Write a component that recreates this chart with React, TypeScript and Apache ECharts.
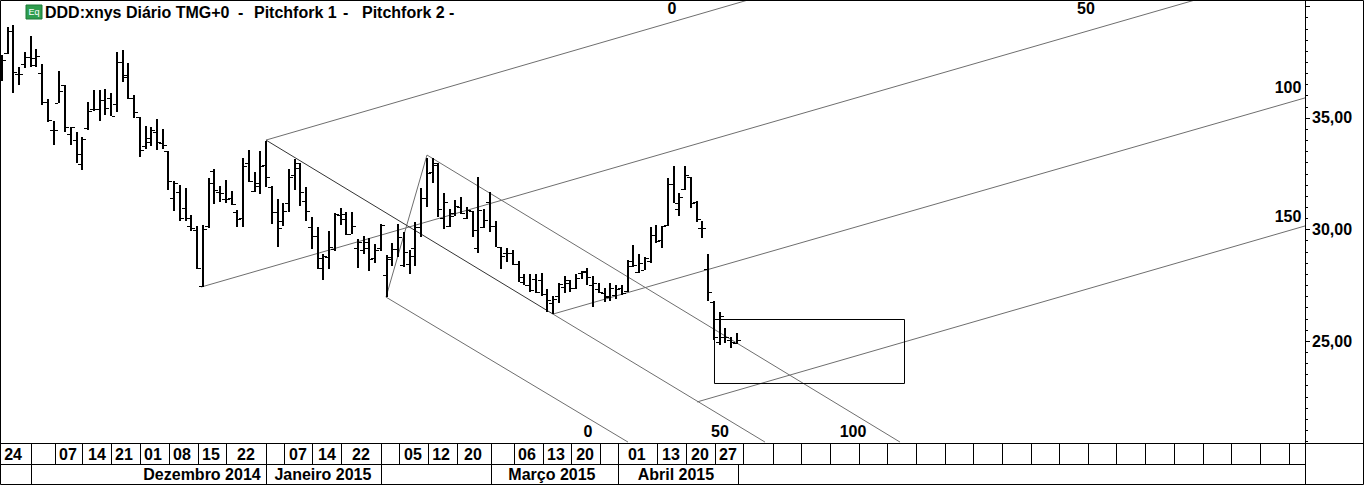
import React, { useEffect, useRef } from "react";
import * as echarts from "echarts";

const opens = [37.60,37.91,38.90,36.97,37.42,37.73,37.38,37.02,35.72,34.46,35.67,36.48,34.28,34.01,32.94,34.55,35.40,35.40,35.81,35.90,35.63,37.51,36.93,35.90,35.04,33.74,33.92,34.37,33.88,33.52,31.41,31.68,30.96,30.16,29.98,27.47,30.16,32.62,31.68,31.37,31.41,30.78,30.51,32.98,31.73,31.95,32.89,31.91,30.78,30.38,31.19,32.44,32.98,31.28,30.11,29.71,28.72,28.77,29.12,30.65,30.47,29.80,29.17,29.08,29.17,28.72,29.17,27.96,28.77,29.12,28.41,28.45,29.17,30.11,31.41,32.58,32.98,30.51,30.16,30.74,31.01,30.51,30.83,29.17,30.11,31.23,30.16,29.21,28.95,28.95,28.45,27.64,27.51,27.78,27.73,27.11,26.70,27.02,27.42,27.60,27.38,28.05,28.14,27.51,27.33,27.15,27.02,27.06,27.38,27.24,28.36,28.09,28.18,28.59,29.75,29.53,30.20,32.04,30.92,31.82,32.35,31.23,30.07,28.23,26.75,24.96,25.18,25.05,24.91];
const highs = [37.82,39.08,39.17,37.29,37.96,38.68,38.09,37.42,35.85,34.86,37.11,36.48,34.60,34.37,34.15,35.72,36.25,36.25,36.30,36.12,37.96,38.05,37.47,36.03,35.04,34.64,34.60,34.95,34.51,33.52,32.17,32.00,31.86,30.65,30.16,30.20,32.31,32.71,31.95,32.22,31.73,30.87,33.21,33.56,32.58,33.52,33.97,31.95,31.37,31.19,32.71,33.16,32.98,31.91,30.56,30.11,28.90,29.93,30.74,30.96,30.78,30.78,29.57,29.71,29.62,29.35,30.25,28.86,29.39,30.25,29.89,29.08,30.34,31.86,33.21,33.21,32.98,31.64,30.92,31.32,31.46,31.01,30.83,32.35,30.92,31.68,30.38,29.21,29.17,29.08,28.59,28.00,28.00,28.00,28.05,27.33,27.02,27.60,27.91,27.73,28.00,28.14,28.27,27.91,27.60,27.38,27.60,27.51,27.51,28.63,29.30,28.90,28.77,30.11,30.20,30.16,32.31,32.85,31.64,32.85,32.35,31.28,30.38,28.90,26.79,26.30,25.59,25.18,25.36];
const lows = [36.66,37.87,36.12,36.48,37.24,37.29,37.29,35.58,34.82,33.79,35.67,34.37,33.79,32.98,32.67,34.46,35.31,34.86,35.13,35.09,35.27,36.61,35.85,35.00,33.25,33.61,33.74,33.56,33.61,31.77,30.83,30.38,30.38,29.93,28.23,27.42,30.07,31.14,31.23,31.19,31.10,30.11,30.11,32.13,31.68,31.59,31.91,30.25,29.21,30.16,30.78,31.77,31.05,30.38,29.12,28.23,27.73,28.23,29.03,30.20,29.75,29.80,28.27,28.90,28.14,28.50,29.03,26.97,28.36,28.77,28.32,28.00,28.36,29.66,31.01,32.08,30.56,30.02,30.11,30.60,30.69,30.47,29.66,28.95,30.07,29.89,29.21,28.23,28.54,28.41,27.64,27.51,27.20,27.15,27.02,26.30,26.21,26.70,27.15,27.20,27.33,27.78,27.51,26.52,27.15,26.75,26.79,26.88,27.06,27.20,28.32,28.05,28.18,28.50,29.39,29.17,30.16,31.19,30.60,31.77,30.96,30.34,29.62,26.79,25.05,24.82,24.91,24.69,24.87];
const closes = [37.60,38.90,37.06,36.97,37.73,37.69,37.78,35.72,34.91,34.46,36.21,34.60,34.60,33.38,34.06,35.31,35.40,35.81,35.45,35.09,37.51,36.84,35.90,35.27,33.56,34.10,34.46,33.92,33.79,32.17,32.08,30.51,30.51,30.07,28.27,30.02,32.08,31.77,31.64,31.37,31.14,30.47,32.85,32.17,32.08,32.85,32.35,30.78,30.07,30.83,32.35,32.76,31.68,30.83,29.71,28.27,28.81,29.21,30.69,30.69,29.80,30.16,29.44,29.44,28.68,29.08,30.20,28.68,29.12,29.66,28.99,28.81,30.11,31.41,32.53,32.89,30.92,31.23,30.60,31.05,30.74,30.87,29.98,30.87,30.42,30.16,29.21,28.81,28.95,28.45,27.87,27.51,27.29,27.20,27.11,26.84,26.88,27.56,27.73,27.38,27.82,28.09,27.87,27.60,27.20,26.97,27.38,27.33,27.15,28.59,28.41,28.50,28.72,29.75,29.48,30.16,32.04,31.19,31.46,32.44,31.19,30.47,30.07,27.20,25.18,26.12,25.18,24.96,25.05];

const priceLabels = [25, 30, 35, 40];
const priceTicks = [20.5,21,21.5,22,22.5,23,23.5,24,24.5,25.5,26,26.5,27,27.5,28,28.5,29,29.5,30.5,31,31.5,32,32.5,33,33.5,34,34.5,35.5,36,36.5,37,37.5,38,38.5,39,39.5];

const dayLabels = ["24","07","14","21","01","08","15","22","07","14","22","05","12","20","06","13","20","01","13","20","27"];
const dayBars = [1.92,11.5,16.55,21.25,26.3,31.36,36.4,42.5,51.57,56.62,62.54,71.6,76.5,82.05,91.46,96.5,101.57,110.6,116.55,121.6,126.48];
const daySeparators = [5.05,9.23,13.94,19,24.04,29.09,34.15,39.02,45.99,49.13,54,59.06,66.03,69.16,74.2,79.27,85.19,89.2,94.25,99.13,104.18,107.3,114.1,119.16,124.2,129.1,134.3,139.2,144.25,149.3,154.2,159.2,164.3,169.2,174.2,179.3,184.15,189.2,194.1,199.1,204.2,209.2,214.1,219.2,224.2];
const monthLabels = ["Dezembro 2014","Janeiro 2015","Março 2015","Abril 2015"];
const monthBars = [34.84,55.9,95.8,117.4];
const monthSeparators = [5.05,45.99,66.03,85.19,107.3,128.2];

// Pitchfork lines: [bar, price] end points
const forkLines: number[][][] = [
  [[45.99,34.01],[129.97,40.29]],
  [[34.67,27.42],[207.84,40.29]],
  [[95.99,26.21],[227,35.90]],
  [[121.08,22.27],[227,30.16]],
  [[95.99,26.21],[132.93,20.47]],
  [[66.9,26.97],[109.06,20.47]],
  [[74.04,33.34],[156.45,20.47]],
  [[66.9,26.97],[74.04,33.34]],
];
const forkMedian: number[][] = [[45.99,34.01],[95.99,26.21]];
const targetBox: number[][] = [[124.126,25.966],[157.23,25.966],[157.23,23.098],[124.126,23.098],[124.126,25.966]];

const forkLabels = [
  { text: "0", x: 672, y: 8 }, { text: "50", x: 1086, y: 8 },
  { text: "100", x: 1288, y: 87 }, { text: "150", x: 1288, y: 216 },
  { text: "0", x: 588, y: 431 }, { text: "50", x: 720, y: 431 }, { text: "100", x: 853, y: 431 },
];
const headerItems = [
  { text: "DDD:xnys Diário TMG+0", x: 45 }, { text: "-", x: 238 },
  { text: "Pitchfork 1", x: 254 }, { text: "-", x: 343 },
  { text: "Pitchfork 2", x: 362 }, { text: "-", x: 449 },
];

const FONT = '"Liberation Sans", Arial, sans-serif';
const xMin = -0.348, xMax = 227.0, yMin = 20.43, yMax = 40.245;

export default function App() {
  const ref = useRef<HTMLDivElement>(null);
  useEffect(() => {
    document.body.style.margin = "0";
    const chart = echarts.init(ref.current!, null, { renderer: "svg" });
    const ohlc = opens.map((o, i) => [i, o, highs[i], lows[i], closes[i]]);
    const textStyle = { color: "#000", fontFamily: FONT, fontWeight: "bold" as const, fontSize: 16 };
    const lineSeries = (data: number[][], color: string) => ({
      type: "line", data, symbol: "none", silent: true, animation: false, z: 2,
      lineStyle: { color, width: 1, join: "miter" },
    });
    chart.setOption({
      animation: false,
      backgroundColor: "#fff",
      grid: { left: 0, top: 1, width: 1305, height: 442, containLabel: false },
      xAxis: [
        {
          type: "value", min: xMin, max: xMax, position: "bottom", splitLine: { show: false },
          axisLine: { show: true, onZero: false, lineStyle: { color: "#000", width: 1 } },
          axisTick: { show: true, length: 21, customValues: daySeparators, lineStyle: { color: "#000", width: 1 } },
          axisLabel: {
            show: true, margin: 3, ...textStyle, customValues: dayBars,
            formatter: (v: number) => dayLabels[dayBars.indexOf(v)] ?? "",
          },
        },
        {
          type: "value", min: xMin, max: xMax, position: "bottom", offset: 21, splitLine: { show: false },
          axisLine: { show: true, onZero: false, lineStyle: { color: "#000", width: 1 } },
          axisTick: { show: true, length: 20, customValues: monthSeparators, lineStyle: { color: "#000", width: 1 } },
          axisLabel: {
            show: true, margin: 2, ...textStyle, customValues: monthBars,
            formatter: (v: number) => monthLabels[monthBars.indexOf(v)] ?? "",
          },
        },
      ],
      yAxis: [
        {
          type: "value", min: yMin, max: yMax, position: "right", splitLine: { show: false },
          axisLine: { show: true, onZero: false, lineStyle: { color: "#000", width: 1 } },
          axisTick: { show: true, length: 5, customValues: priceLabels, lineStyle: { color: "#000", width: 1 } },
          axisLabel: {
            show: true, margin: 7, ...textStyle, customValues: priceLabels.slice(0, 3),
            formatter: (v: number) => v.toFixed(2).replace(".", ","),
          },
        },
        {
          type: "value", min: yMin, max: yMax, position: "right", splitLine: { show: false },
          axisLine: { show: false, onZero: false },
          axisTick: { show: true, length: 3, customValues: priceTicks, lineStyle: { color: "#000", width: 1 } },
          axisLabel: { show: false },
        },
      ],
      series: [
        ...forkLines.map((d) => lineSeries(d, "#6e6e6e")),
        lineSeries(forkMedian, "#333333"),
        lineSeries(targetBox, "#000"),
        {
          type: "custom",
          data: ohlc,
          z: 3,
          silent: true,
          clip: false,
          encode: { x: 0, y: [1, 2, 3, 4] },
          renderItem: (_p: unknown, api: any) => {
            const x = api.coord([api.value(0), api.value(1)])[0];
            const px = Math.round(x);
            const yO = Math.round(api.coord([api.value(0), api.value(1)])[1]);
            const yH = Math.round(api.coord([api.value(0), api.value(2)])[1]);
            const yL = Math.round(api.coord([api.value(0), api.value(3)])[1]);
            const yC = Math.round(api.coord([api.value(0), api.value(4)])[1]);
            const style = { fill: "#000", stroke: null };
            return {
              type: "group",
              children: [
                { type: "rect", shape: { x: px - 1, y: yH, width: 2, height: yL - yH }, style },
                { type: "rect", shape: { x: px - 4, y: yO, width: 3, height: 1 }, style },
                { type: "rect", shape: { x: px + 1, y: yC, width: 3, height: 1 }, style },
              ],
            };
          },
        },
      ],
      graphic: [
        { type: "rect", silent: true, z: 10, shape: { x: 0.5, y: 0.5, width: 1363, height: 484 }, style: { fill: "none", stroke: "#000", lineWidth: 1 } },
        { type: "line", silent: true, z: 10, shape: { x1: 1305, y1: 443.5, x2: 1364, y2: 443.5 }, style: { stroke: "#000", lineWidth: 1 } },
        { type: "line", silent: true, z: 10, shape: { x1: 1305.5, y1: 443, x2: 1305.5, y2: 485 }, style: { stroke: "#000", lineWidth: 1 } },
        { type: "rect", silent: true, z: 11, shape: { x: 26, y: 5, width: 16, height: 14 }, style: { fill: "#2f9e4f", stroke: "#1c7a38", lineWidth: 1 } },
        { type: "text", silent: true, z: 12, x: 34, y: 12, style: { text: "Eq", fill: "#fff", font: `9px ${FONT}`, align: "center", verticalAlign: "middle" } },
        ...headerItems.map((h) => ({
          type: "text", silent: true, z: 12, x: h.x, y: 12,
          style: { text: h.text, fill: "#000", font: `bold 16px ${FONT}`, verticalAlign: "middle" },
        })),
        ...forkLabels.map((l) => ({
          type: "text", silent: true, z: 12, x: l.x, y: l.y,
          style: { text: l.text, fill: "#000", font: `bold 16px ${FONT}`, align: "center", verticalAlign: "middle" },
        })),
      ],
    });
    return () => chart.dispose();
  }, []);
  return <div ref={ref} style={{ width: 1364, height: 485 }} />;
}
